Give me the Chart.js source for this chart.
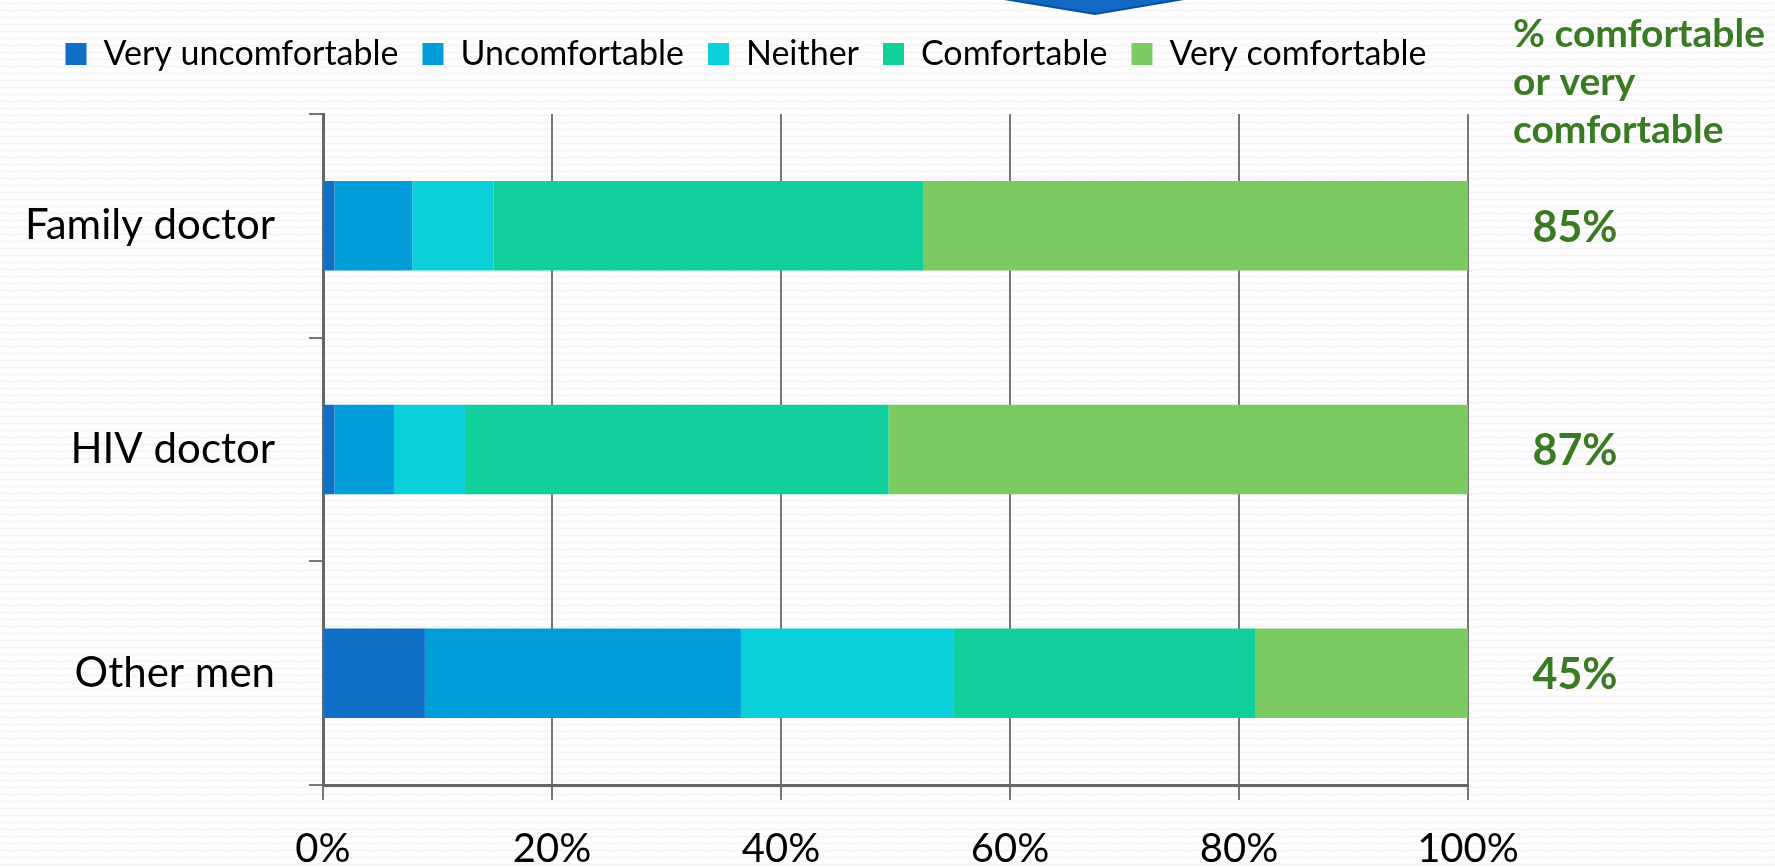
<!DOCTYPE html>
<html>
<head>
<meta charset="utf-8">
<title>Comfort discussing</title>
<script src="https://cdn.jsdelivr.net/npm/chart.js@4.4.1/dist/chart.umd.min.js"></script>
<style>
  html, body { margin: 0; padding: 0; }
  body {
    width: 1775px;
    height: 867px;
    overflow: hidden;
    background-color: #fdfdfd;
    background-image: url("data:image/svg+xml,%3Csvg xmlns='http://www.w3.org/2000/svg' width='6' height='7'%3E%3Cpath d='M0 4.5 L1.5 2.5 L3 4.5 L4.5 2.5 L6 4.5' fill='none' stroke='%23ededed' stroke-width='0.9'/%3E%3C/svg%3E");
  }
  canvas#comfort { display: block; }
</style>
</head>
<body>
<canvas id="comfort" width="1775" height="867"></canvas>
<script>
// Data (percent of respondents)
const groups = ['Family doctor', 'HIV doctor', 'Other men']
const veryUncomfortable = [1.0, 1.0, 8.9]
const uncomfortable = [6.8, 5.2, 27.6]
const neither = [7.1, 6.2, 18.6]
const comfortable = [37.5, 37.0, 26.3]
const veryComfortable = [47.6, 50.6, 18.6]
const comfortableShare = [85, 87, 45]
const shareHeader = ['% comfortable', 'or very', 'comfortable']

const green = '#3b7a24'
const axisGrey = '#767676'

// draws the "% comfortable" column on the right and the arrow tip at the top
const sideNotes = {
    id: 'sideNotes',
    beforeInit: (chart) => {
        const legend = chart.legend
        // leave room between legend and plot area
        const fit = legend.fit
        legend.fit = function () {
            fit.call(this)
            this.height += 33
        }
        // legend sits a little right of centre
        const draw = legend.draw
        legend.draw = function () {
            this.left += 12
            this.right += 12
            draw.call(this)
            this.left -= 12
            this.right -= 12
        }
    },
    afterDraw: (chart) => {
        const ctx = chart.ctx
        const area = chart.chartArea
        const yScale = chart.scales.y
        ctx.save()
        ctx.fillStyle = green
        ctx.textAlign = 'left'
        ctx.textBaseline = 'alphabetic'
        ctx.font = 'bold 39px Lato'
        shareHeader.forEach((line, i) => {
            ctx.fillText(line, area.right + 45, 47 + i * 48)
        })
        ctx.font = 'bold 43px Lato'
        ctx.textAlign = 'center'
        ctx.textBaseline = 'middle'
        comfortableShare.forEach((v, i) => {
            ctx.fillText(v + '%', area.right + 107, yScale.getPixelForValue(i) + 2)
        })
        // arrow tip from the slide above
        ctx.beginPath()
        ctx.moveTo(998, -2)
        ctx.lineTo(1190, -2)
        ctx.lineTo(1095, 14)
        ctx.closePath()
        ctx.fillStyle = '#1268c3'
        ctx.fill()
        ctx.strokeStyle = '#0b4f9c'
        ctx.lineWidth = 2
        ctx.stroke()
        ctx.restore()
    }
}

let comfortCanvas = document.querySelector('canvas#comfort')
var comfortChart = new Chart(comfortCanvas, {
    type: 'bar',
    data: {
        labels: groups,
        datasets: [
            { label: 'Very uncomfortable', data: veryUncomfortable, backgroundColor: '#0f6fc6' },
            { label: 'Uncomfortable', data: uncomfortable, backgroundColor: '#009dd9' },
            { label: 'Neither', data: neither, backgroundColor: '#0bd0d9' },
            { label: 'Comfortable', data: comfortable, backgroundColor: '#10cf9b' },
            { label: 'Very comfortable', data: veryComfortable, backgroundColor: '#7cca62' }
        ]
    },
    options: {
        indexAxis: 'y',
        responsive: false,
        devicePixelRatio: 1,
        animation: false,
        datasets: {
            bar: {
                barPercentage: 0.4,
                categoryPercentage: 1
            }
        },
        layout: {
            padding: { left: 0, right: 307, top: 13, bottom: 0 }
        },
        plugins: {
            legend: {
                position: 'top',
                align: 'center',
                labels: {
                    boxWidth: 21,
                    boxHeight: 22,
                    padding: 24,
                    color: '#000',
                    font: { family: 'Lato', size: 34 }
                }
            },
            tooltip: { enabled: false }
        },
        scales: {
            x: {
                stacked: true,
                min: 0,
                max: 100,
                ticks: {
                    stepSize: 20,
                    padding: 29,
                    color: '#000',
                    font: { family: 'Lato', size: 40, lineHeight: 1 },
                    callback: (v) => v + '%'
                },
                grid: {
                    color: axisGrey,
                    lineWidth: 2,
                    tickLength: 15
                },
                border: { color: '#666', width: 3 },
                afterFit: (scale) => {
                    scale.height = 82
                }
            },
            y: {
                stacked: true,
                ticks: {
                    padding: 34,
                    color: '#000',
                    font: { family: 'Lato', size: 42 }
                },
                grid: {
                    offset: true,
                    drawOnChartArea: false,
                    color: axisGrey,
                    lineWidth: 2,
                    tickLength: 14
                },
                border: { color: '#666', width: 3 },
                afterFit: (scale) => {
                    scale.width = 323
                }
            }
        }
    },
    plugins: [sideNotes]
})
</script>
</body>
</html>
